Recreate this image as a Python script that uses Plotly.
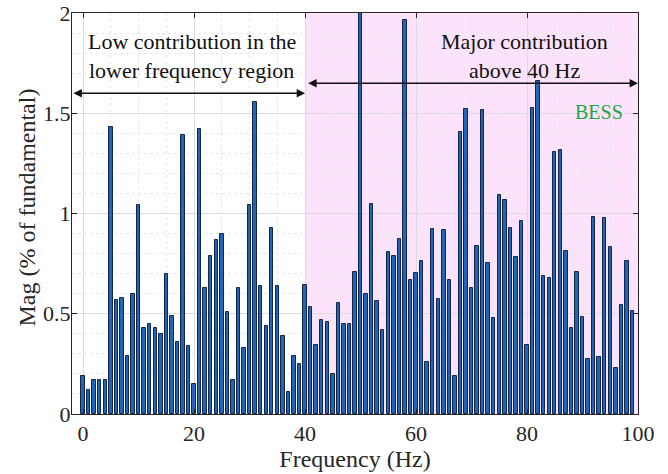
import plotly.graph_objects as go

# ---- data ----
freq_hz = list(range(0, 100))
mag_pct = [
    0.19, 0.12, 0.17, 0.17, 0.17, 1.43, 0.57, 0.58, 0.29, 0.60,   # 0-9
    1.04, 0.43, 0.45, 0.43, 0.40, 0.70, 0.49, 0.36, 1.39, 0.34,   # 10-19
    0.15, 1.42, 0.63, 0.79, 0.87, 0.90, 0.51, 0.17, 0.63, 0.33,   # 20-29
    1.04, 1.555, 0.64, 0.44, 0.93, 0.64, 0.39, 0.11, 0.29, 0.25,  # 30-39
    0.645, 0.535, 0.345, 0.47, 0.46, 0.20, 0.555, 0.45, 0.45, 0.71,  # 40-49
    2.30, 0.60, 1.045, 0.565, 0.42, 0.81, 0.79, 0.875, 1.965, 0.67,  # 50-59
    0.705, 0.765, 0.26, 0.925, 0.575, 0.92, 0.67, 0.19, 1.405, 1.52,  # 60-69
    0.63, 0.84, 1.515, 0.755, 0.48, 1.09, 1.065, 0.93, 0.785, 0.965,  # 70-79
    0.345, 1.525, 1.66, 0.69, 0.68, 1.305, 1.315, 0.815, 0.43, 0.71,  # 80-89
    0.485, 0.275, 0.985, 0.285, 0.98, 0.835, 0.23, 0.545, 0.765, 0.515,  # 90-99
]
x_ticks = [0, 20, 40, 60, 80, 100]
y_ticks = [0, 0.5, 1, 1.5, 2]
y_tick_labels = ["0", "0.5", "1", "1.5", "2"]

region_split = 40
x_range = [-2, 100]
y_range = [0, 2]

SERIF = "Liberation Serif"
TXT = "#262626"

fig = go.Figure()
fig.add_trace(go.Bar(
    x=freq_hz, y=mag_pct, width=0.62,
    marker=dict(color="#1f66b8", line=dict(color="#15254a", width=1)),
    showlegend=False,
))

# pink region (above 40 Hz)
fig.add_shape(type="rect", xref="x", yref="y", x0=region_split, x1=x_range[1],
              y0=y_range[0], y1=y_range[1], fillcolor="#fce3fb",
              line=dict(width=0), layer="below")

# arrows
fig.add_annotation(x=region_split, y=1.60, ax=x_range[0], ay=1.60, xref="x", yref="y",
                   axref="x", ayref="y", text="", showarrow=True, arrowhead=2,
                   arrowside="end+start", arrowsize=1.2, arrowwidth=1.4, arrowcolor="#111111")
fig.add_annotation(x=x_range[1], y=1.65, ax=region_split + 0.3, ay=1.65, xref="x", yref="y",
                   axref="x", ayref="y", text="", showarrow=True, arrowhead=2,
                   arrowside="end+start", arrowsize=1.2, arrowwidth=1.4, arrowcolor="#111111")

# text annotations
for txt, xx, yy in [("Low contribution in the", 19.6, 1.86),
                    ("lower frequency region", 19.6, 1.715),
                    ("Major contribution", 79.6, 1.86),
                    ("above 40 Hz", 79.6, 1.715)]:
    fig.add_annotation(x=xx, y=yy, xref="x", yref="y", text=txt, showarrow=False,
                       font=dict(family=SERIF, size=22, color="#111111"),
                       xanchor="center", yanchor="middle")
fig.add_annotation(x=93.0, y=1.505, xref="x", yref="y", text="BESS", showarrow=False,
                   font=dict(family=SERIF, size=20, color="#1fa34a"),
                   xanchor="center", yanchor="middle")

# y-axis title (placed as rotated text left of the tick labels)
fig.add_annotation(x=-0.0795, y=0.515, xref="paper", yref="paper",
                   text="Mag (% of fundamental)", showarrow=False, textangle=-90,
                   font=dict(family=SERIF, size=24, color=TXT),
                   xanchor="center", yanchor="middle")

fig.update_layout(
    width=668, height=474,
    margin=dict(l=72, r=30, t=13, b=60, autoexpand=False),
    paper_bgcolor="white", plot_bgcolor="white",
    font=dict(family=SERIF, size=22, color=TXT),
    bargap=0,
)
fig.update_xaxes(
    range=x_range, tickvals=x_ticks, ticks="inside", ticklen=5, tickcolor=TXT,
    showline=True, linecolor=TXT, linewidth=1, mirror="ticks",
    showgrid=True, gridcolor="#dcdcdc", gridwidth=1,
    minor=dict(dtick=5, showgrid=True, gridcolor="#e8e8e8", griddash="dot"),
    zeroline=False, automargin=False, ticklabelstandoff=0,
    title=dict(text="Frequency (Hz)", font=dict(family=SERIF, size=24, color=TXT), standoff=2),
    tickfont=dict(family=SERIF, size=22, color=TXT),
)
fig.update_yaxes(
    range=y_range, tickvals=y_ticks, ticktext=y_tick_labels, ticks="inside", ticklen=5,
    tickcolor=TXT, showline=True, linecolor=TXT, linewidth=1, mirror="ticks",
    showgrid=True, gridcolor="#dcdcdc", gridwidth=1,
    minor=dict(dtick=0.1, showgrid=True, gridcolor="#e8e8e8", griddash="dot"),
    zeroline=False, automargin=False, ticklabelstandoff=-4,
    tickfont=dict(family=SERIF, size=22, color=TXT),
)

fig.write_html("out.html")
